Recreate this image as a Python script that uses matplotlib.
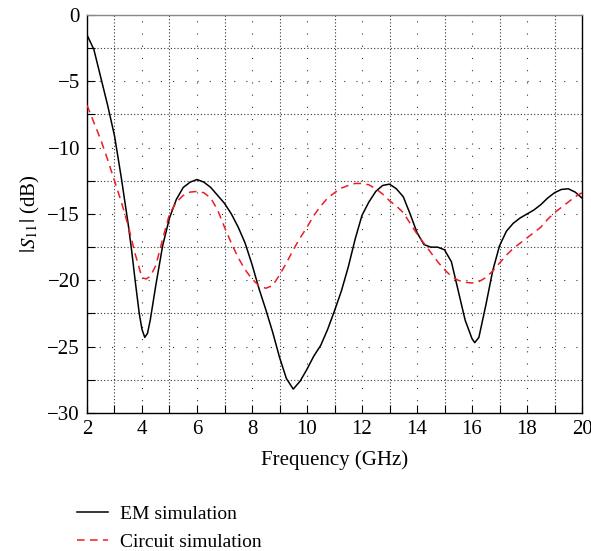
import matplotlib
matplotlib.use("Agg")
import matplotlib.pyplot as plt
from matplotlib.ticker import MultipleLocator

plt.rcParams['font.family'] = ['Liberation Serif', 'DejaVu Serif']
plt.rcParams['mathtext.fontset'] = 'stix'

freq_em = [2.0, 2.25, 2.5, 2.75, 3.0, 3.25, 3.5, 3.62, 3.75, 3.9, 4.0, 4.1, 4.2, 4.3, 4.4,
           4.5, 4.75, 5.0, 5.25, 5.5, 5.75, 6.0, 6.25, 6.5, 6.75, 7.0, 7.25, 7.5, 7.75, 8.0,
           8.25, 8.5, 8.75, 9.0, 9.25, 9.5, 9.75, 10.0, 10.25, 10.5, 10.75, 11.0, 11.25,
           11.5, 11.75, 12.0, 12.25, 12.5, 12.75, 13.0, 13.25, 13.5, 13.75, 14.0, 14.25,
           14.5, 14.75, 15.0, 15.25, 15.5, 15.75, 16.0, 16.1, 16.25, 16.5, 16.75, 17.0,
           17.25, 17.5, 17.75, 18.0, 18.25, 18.5, 18.75, 19.0, 19.25, 19.5, 19.75, 20.0]
s11_em = [-1.5, -2.6, -4.7, -6.8, -9.1, -12.3, -15.8, -17.7, -20.0, -22.5, -23.7, -24.3,
          -24.0, -23.0, -21.7, -20.4, -17.4, -15.3, -13.9, -13.0, -12.6, -12.4, -12.6,
          -13.0, -13.6, -14.2, -15.0, -16.0, -17.2, -18.8, -20.6, -22.2, -23.9, -25.8,
          -27.4, -28.2, -27.6, -26.7, -25.7, -24.9, -23.7, -22.3, -20.8, -19.0, -16.9,
          -15.1, -14.1, -13.3, -12.85, -12.75, -13.1, -13.7, -15.0, -16.4, -17.3, -17.5,
          -17.5, -17.7, -18.6, -20.8, -23.0, -24.4, -24.7, -24.3, -21.9, -19.3, -17.4,
          -16.3, -15.7, -15.3, -15.0, -14.7, -14.3, -13.8, -13.4, -13.15, -13.1, -13.35,
          -13.8]

freq_ckt = [2.0, 2.25, 2.5, 2.75, 3.0, 3.25, 3.5, 3.75, 4.0, 4.15, 4.3, 4.5, 4.75, 5.0,
            5.25, 5.5, 5.75, 6.0, 6.25, 6.5, 6.75, 7.0, 7.25, 7.5, 7.75, 8.0, 8.25, 8.5,
            8.75, 9.0, 9.25, 9.5, 9.75, 10.0, 10.25, 10.5, 10.75, 11.0, 11.25, 11.5,
            11.75, 12.0, 12.25, 12.5, 12.75, 13.0, 13.25, 13.5, 13.75, 14.0, 14.25, 14.5,
            14.75, 15.0, 15.25, 15.5, 15.75, 16.0, 16.25, 16.5, 16.75, 17.0, 17.25, 17.5,
            17.75, 18.0, 18.25, 18.5, 18.75, 19.0, 19.25, 19.5, 19.75, 20.0]
s11_ckt = [-6.8, -8.1, -9.4, -10.9, -12.5, -14.1, -15.9, -18.0, -19.8, -19.9, -19.7,
           -18.9, -16.9, -15.0, -14.1, -13.6, -13.35, -13.3, -13.4, -13.8, -14.7, -16.0,
           -17.2, -18.3, -19.2, -19.9, -20.4, -20.6, -20.4, -19.6, -18.7, -17.7, -16.8,
           -16.0, -15.1, -14.4, -13.8, -13.4, -13.05, -12.85, -12.7, -12.7, -12.8, -13.1,
           -13.5, -14.0, -14.4, -14.9, -15.7, -16.5, -17.2, -17.9, -18.6, -19.2, -19.7,
           -20.0, -20.15, -20.2, -20.1, -19.8, -19.3, -18.7, -18.1, -17.6, -17.2, -16.8,
           -16.4, -16.0, -15.4, -14.9, -14.5, -14.1, -13.7, -13.4]

x_ticks = [2, 4, 6, 8, 10, 12, 14, 16, 18, 20]
y_ticks = [0, -5, -10, -15, -20, -25, -30]

fig = plt.figure(figsize=(5.91, 5.51), dpi=100)
ax = fig.add_axes([0.1472, 0.2505, 0.8376, 0.7223])

ax.plot(freq_em, s11_em, color='black', lw=1.1, label='EM simulation', zorder=3)
ax.plot(freq_ckt, s11_ckt, color='#ee1c25', lw=1.1, dashes=(5, 3.5),
        label='Circuit simulation', zorder=3)

ax.set_xlim(2, 20)
ax.set_ylim(-30, 0)
ax.set_xticks(x_ticks)
ax.set_yticks(y_ticks)
ax.set_yticklabels(['0' if v == 0 else '\u2212%d' % (-v) for v in y_ticks])
ax.xaxis.set_minor_locator(MultipleLocator(1))
ax.yaxis.set_minor_locator(MultipleLocator(2.5))
ax.tick_params(which='both', direction='in', labelsize=15, top=False, right=False)
ax.tick_params(which='major', length=6, width=0.8, pad=5)
ax.tick_params(which='minor', length=6, width=0.8)

ax.grid(which='major', color='#333333', lw=0.8, linestyle=(0, (1, 10)))
ax.grid(which='minor', color='#333333', lw=0.8, linestyle=(0, (1, 2)))
for s in ax.spines.values():
    s.set_linewidth(1.0)
ax.spines['top'].set_color('#888888')

ax.set_xlabel('Frequency (GHz)', fontsize=15, labelpad=8)
ax.set_ylabel(r'$|S_{11}|$ (dB)', fontsize=15, labelpad=4)

handles, labels = ax.get_legend_handles_labels()
fig.legend(handles, labels, loc='upper left', bbox_to_anchor=(0.13, 0.083),
           frameon=False, fontsize=14, handlelength=1.6, handletextpad=0.6,
           labelspacing=0.55, borderpad=0, borderaxespad=0)

fig.savefig('out.png', dpi=100)
